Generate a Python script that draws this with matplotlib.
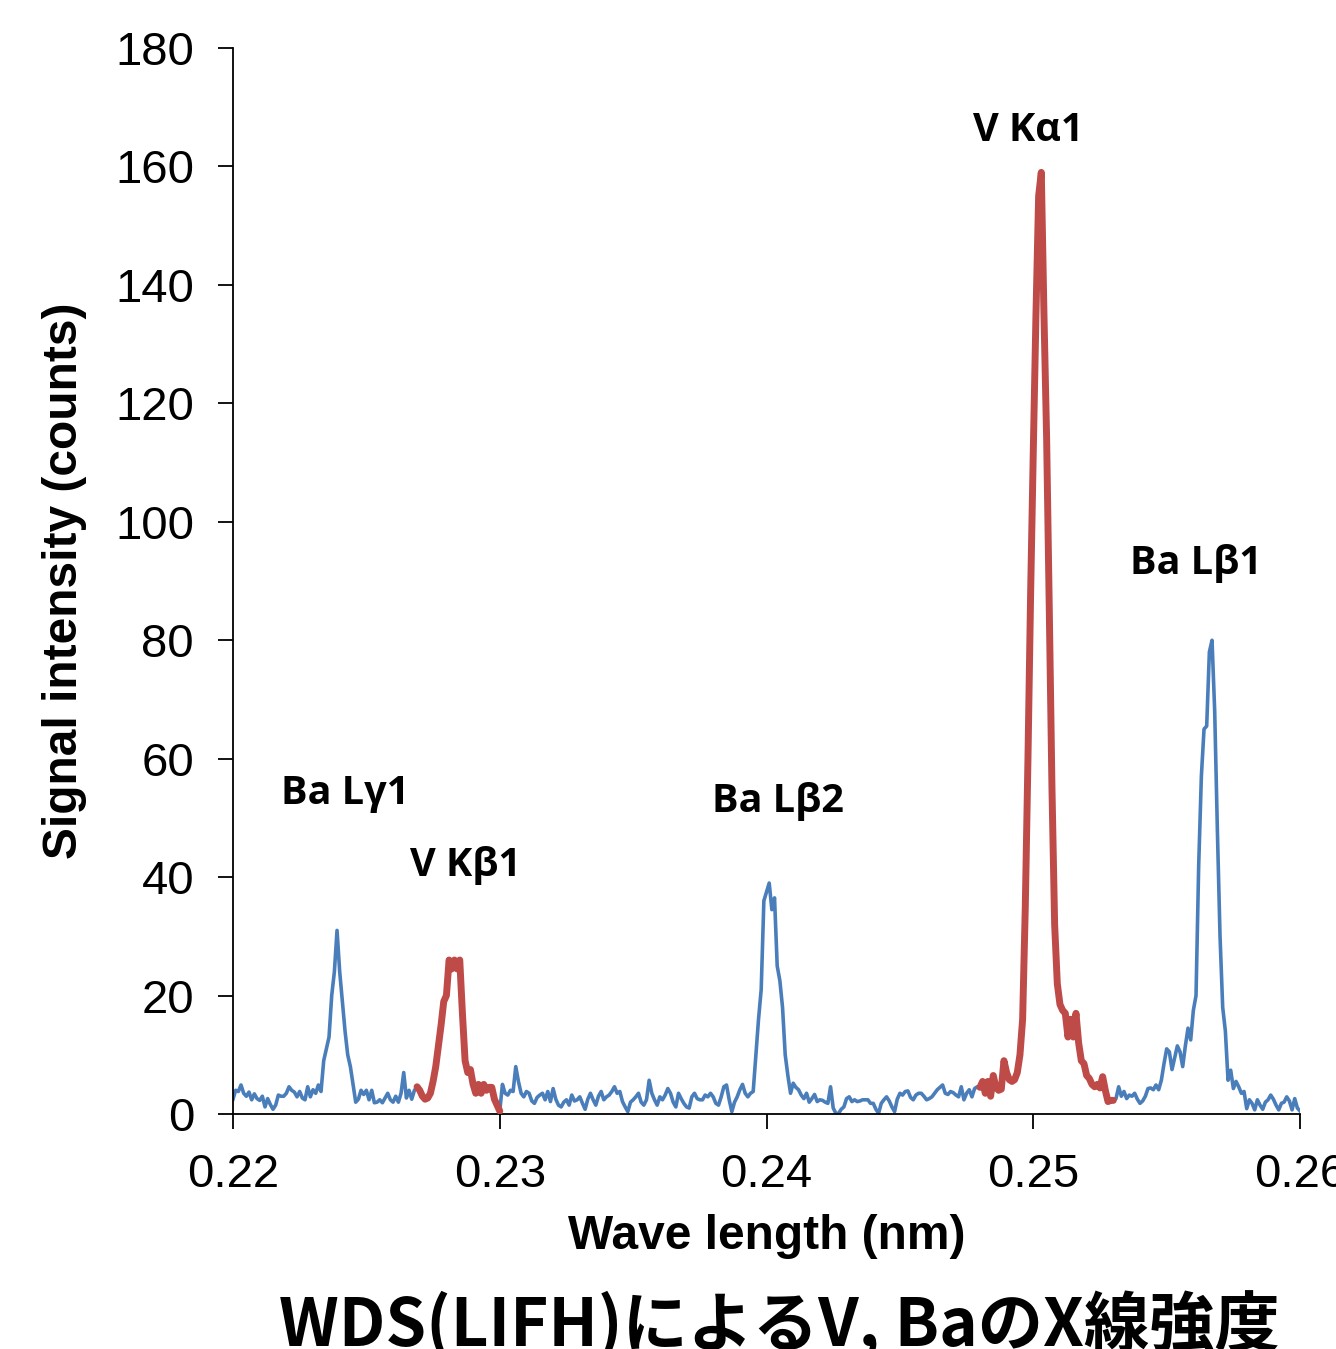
import numpy as np
import matplotlib
matplotlib.use("Agg")
import matplotlib.pyplot as plt

# ---------------- data ----------------
wl_start = 0.2200   # nm
wl_step = 0.0001    # nm
counts = [
    2.5, 4, 3.8, 4.9, 3.5, 3.0, 3.7, 2.4, 3.4, 2.6,
    2.3, 3.0, 1.2, 2.6, 1.6, 0.8, 1.5, 3.2, 3.0, 3.0,
    3.5, 4.6, 4.0, 3.7, 2.9, 3.8, 2.7, 2.4, 4.6, 2.9,
    4.1, 3.5, 4.9, 3.8, 9, 11, 13, 20, 24, 31,
    24, 19, 14, 10, 8, 5, 2, 2.5, 4, 3.3,
    4, 2.4, 4, 1.9, 2, 2.4, 1.9, 2.7, 3.5, 2.4,
    2, 3, 2, 3.5, 7, 2.7, 4, 2.5, 4, 4.6,
    4, 3, 2.5, 2.7, 3.5, 5.5, 8, 11.5, 15, 19,
    20, 26, 24.5, 26, 24.5, 26, 17, 9, 7, 7.5,
    5, 3.5, 5, 3.5, 5, 4, 4.5, 4.5, 2.5, 1.5,
    0.5, 5, 3.5, 3.2, 4, 3.8, 8, 5.5, 3.5, 2.9,
    3.8, 3.5, 2.2, 1.8, 2.8, 3.2, 3.5, 2.4, 3.8, 2.1,
    4.3, 2.5, 1.5, 1.2, 2, 2.4, 1.5, 3.2, 2.2, 2.4,
    2.9, 1.8, 0.8, 2.5, 3.5, 2.4, 1.5, 3.0, 3.8, 2.4,
    2.9, 3.2, 3.8, 4.6, 3.5, 3.8, 2.1, 1.2, 0.4, 2,
    2.4, 2.9, 3.5, 2, 1.5, 2.4, 5.7, 3.5, 2.4, 1.5,
    2.9, 2.4, 3.2, 4.3, 3.5, 2, 1.2, 3.5, 2.6, 1.8,
    1.2, 1.0, 2.9, 3.5, 2.6, 2.4, 2.4, 3.2, 2.9, 3.5,
    2.9, 1.8, 1.5, 2.9, 4.6, 4.9, 2.4, 0.4, 2, 2.9,
    4.1, 5, 3.5, 2.9, 3.5, 3.8, 10, 16, 21, 36,
    37.5, 39, 34.5, 36.5, 25, 22.5, 18, 10, 6.5, 3.5,
    5.2, 4.5, 4.1, 3.2, 2.6, 3.5, 2, 2.6, 3.3, 2.1,
    2.4, 2.3, 2.0, 1.8, 4.6, 1.0, 0.1, 0.1, 0.8, 1.2,
    2.6, 2.9, 2.1, 2.4, 2.1, 2.2, 2.4, 2.4, 2.4, 1.8,
    1.8, 0.8, 0.1, 1.8, 2.4, 2.9, 2.2, 1.2, 0.4, 2.5,
    3.5, 3.2, 3.8, 3.9, 2.8, 2.4, 3.2, 3.5, 3.5, 3.0,
    2.4, 2.6, 2.9, 3.5, 4.1, 4.5, 4.9, 3.5, 3.3, 3.8,
    3.6, 3.2, 2.9, 4.6, 2.4, 3.5, 4.1, 2.9, 4.3, 4.6,
    4.5, 5.5, 3.5, 5.5, 3.0, 6.5, 4.5, 4.0, 4.2, 9,
    7, 5.8, 5.5, 5.8, 7, 10, 16, 35, 60, 88,
    112, 135, 155, 159, 135, 114, 85, 55, 32, 22,
    18.5, 17.5, 17, 13, 16, 13, 17, 12, 9, 8.5,
    6.5, 6, 5, 4.6, 5, 4.4, 6.3, 4, 2.1, 2.3,
    2.3, 2.6, 4.6, 3.0, 3.8, 2.6, 3.2, 3.0, 3.5, 2.5,
    1.8, 2.2, 3.0, 4.3, 4.4, 4.1, 4.9, 4.1, 5.7, 8.5,
    11, 10.5, 7.5, 9.5, 11.5, 10.5, 8, 11.5, 14.5, 12.5,
    17.5, 20, 42, 57, 65, 65.5, 78, 80, 68, 48,
    30, 18, 14, 5.7, 7.4, 4.3, 5.5, 4.6, 3.5, 3.8,
    0.9, 2.4, 1.8, 0.7, 2.4, 1.5, 0.8, 2.0, 2.4, 3.2,
    2.5, 1.5, 0.7, 1.8, 2.0, 2.9, 2.2, 0.7, 2.6, 1.0,
    0.5,
]
# wavelength ranges belonging to V lines (drawn in red)
v_ranges = [(0.2269, 0.2300), (0.2480, 0.2530)]

peak_labels = ["Ba Lγ1", "V Kβ1", "Ba Lβ2", "V Kα1", "Ba Lβ1"]
peak_label_x = [0.22420, 0.22870, 0.24043, 0.24980, 0.25610]
peak_label_y = [54.2, 42.0, 52.7, 166.0, 92.9]

x_ticks = [0.22, 0.23, 0.24, 0.25, 0.26]
x_ticklabels = ["0.22", "0.23", "0.24", "0.25", "0.26"]
y_ticks = [0, 20, 40, 60, 80, 100, 120, 140, 160, 180]

title = "WDS(LIFH)によるV, BaのX線強度"
xlabel = "Wave length (nm)"
ylabel = "Signal intensity (counts)"

# ---------------- plot ----------------
y = np.array(counts, dtype=float)
wl = np.round(wl_start + wl_step * np.arange(len(y)), 5)
eps = 1e-9
blue_mask = np.ones(len(y), bool)
for a, b in v_ranges:
    blue_mask &= ~((wl > a + eps) & (wl < b - eps))

BLUE = "#4A7EBB"
RED = "#BE4B48"

fig = plt.figure(figsize=(13.36, 13.49), dpi=100)
ax = fig.add_axes([0.1744, 0.1742, 0.7987, 0.7902])

ax.plot(wl, np.where(blue_mask, y, np.nan), color=BLUE, lw=2.6, zorder=2)
for a, b in v_ranges:
    m = (wl >= a - eps) & (wl <= b + eps)
    ax.plot(wl[m], y[m], color=RED, lw=5.0, zorder=3, solid_capstyle="round")

ax.set_xlim(0.22, 0.26)
ax.set_ylim(0, 180)
ax.set_xticks(x_ticks)
ax.set_xticklabels(x_ticklabels)
ax.set_yticks(y_ticks)

for s in ["top", "right"]:
    ax.spines[s].set_visible(False)
for s in ["left", "bottom"]:
    ax.spines[s].set_linewidth(1.3)
    ax.spines[s].set_color("#000000")

ax.tick_params(axis="both", direction="out", length=11, width=1.3, pad=17)
for lab in ax.get_xticklabels() + ax.get_yticklabels():
    lab.set_fontfamily("Liberation Sans")
    lab.set_fontsize(34)

ax.set_xlabel(xlabel, fontfamily="Liberation Sans", fontweight="bold",
              fontsize=34.5, labelpad=12)
ax.set_ylabel(ylabel, fontfamily="Liberation Sans", fontweight="bold",
              fontsize=34.5, labelpad=20)

for txt, lx, ly in zip(peak_labels, peak_label_x, peak_label_y):
    ax.text(lx, ly, txt, ha="center", va="center", fontsize=28.5,
            fontweight="bold", family=["Open Sans", "DejaVu Sans"])

fig.text(0.583, 0.0015, title, ha="center", va="baseline", fontsize=47,
         fontweight="bold", family=["Noto Sans CJK JP", "DejaVu Sans"])

fig.savefig("out.png", dpi=100)
